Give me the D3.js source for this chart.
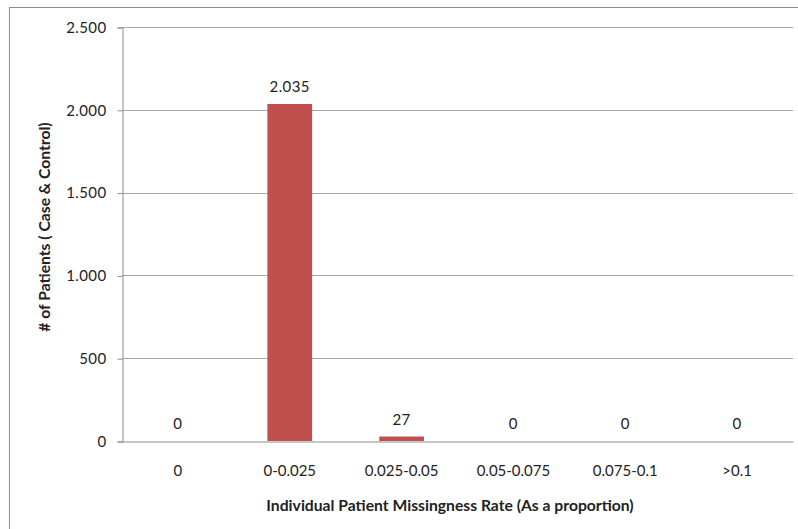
<!DOCTYPE html>
<html>
<head>
<meta charset="utf-8">
<script src="https://cdn.jsdelivr.net/npm/d3@7"></script>
<style>
  html, body { margin: 0; padding: 0; background: #fff; }
  svg { display: block; font-family: Lato, "Open Sans", sans-serif; }
</style>
</head>
<body>
<svg id="chart" width="798" height="529"></svg>
<script>
// Patients grouped by individual missingness rate
const categories = ["0", "0-0.025", "0.025-0.05", "0.05-0.075", "0.075-0.1", ">0.1"];
const patients = [0, 2035, 27, 0, 0, 0];
const yTicks = [0, 500, 1000, 1500, 2000, 2500];

const svg = d3.select("#chart");
const W = 798, H = 529;
const plot = { left: 122, right: 793, top: 27, bottom: 441 };
const textColor = "#222";

// chart frame
svg.append("rect")
  .attr("x", 9.5).attr("y", 7.5)
  .attr("width", W).attr("height", H)
  .attr("fill", "#fff").attr("stroke", "#8c8c8c").attr("stroke-width", 1);

const x = d3.scaleBand().domain(categories).range([plot.left, plot.right]).paddingInner(0).paddingOuter(0);
const y = d3.scaleLinear().domain([0, 2500]).range([plot.bottom, plot.top]);

// thousands separator shown as a dot
const fmt = v => d3.format(",")(v).replace(/,/g, ".");

// horizontal gridlines
svg.append("g").selectAll("line")
  .data(yTicks.filter(v => v > 0))
  .join("line")
  .attr("x1", plot.left).attr("x2", plot.right)
  .attr("y1", d => Math.round(y(d)) + 0.5).attr("y2", d => Math.round(y(d)) + 0.5)
  .attr("stroke", "#a6a6a6");

// y axis
const yAxis = d3.axisLeft(y).tickValues(yTicks).tickSize(5).tickFormat(fmt);
const gy = svg.append("g").attr("transform", `translate(${plot.left + 0.5},0.5)`).call(yAxis);
gy.select(".domain").attr("stroke", "#8c8c8c");
gy.selectAll(".tick line").attr("stroke", "#8c8c8c");
gy.selectAll(".tick text")
  .attr("x", -16).attr("font-size", 15).attr("fill", textColor)
  .attr("letter-spacing", 0.4)
  .attr("font-family", "Lato, sans-serif");

// bars
const barW = x.bandwidth() * 0.4;
svg.append("g").selectAll("rect")
  .data(patients)
  .join("rect")
  .attr("x", (d, i) => x(categories[i]) + (x.bandwidth() - barW) / 2)
  .attr("width", barW)
  .attr("y", d => y(d))
  .attr("height", d => y(0) - y(d))
  .attr("fill", "#C0504D");

// value labels
svg.append("g").selectAll("text")
  .data(patients)
  .join("text")
  .attr("x", (d, i) => x(categories[i]) + x.bandwidth() / 2)
  .attr("y", d => y(d) - 12)
  .attr("text-anchor", "middle")
  .attr("font-size", 15).attr("fill", textColor)
  .attr("letter-spacing", 0.4)
  .text(d => fmt(d));

// x axis
const xAxis = d3.axisBottom(x).tickSize(0).tickPadding(24);
const gx = svg.append("g").attr("transform", `translate(0,${plot.bottom + 0.5})`).call(xAxis);
gx.select(".domain").attr("stroke", "#8c8c8c");
gx.selectAll(".tick text").attr("font-size", 15).attr("fill", textColor)
  .attr("font-family", "Lato, sans-serif");

// axis titles
svg.append("text")
  .attr("x", 450).attr("y", 511)
  .attr("text-anchor", "middle")
  .attr("font-size", 15.7).attr("font-weight", "bold").attr("fill", textColor)
  .text("Individual Patient Missingness Rate (As a proportion)");

svg.append("text")
  .attr("transform", "translate(50,227) rotate(-90)")
  .attr("text-anchor", "middle")
  .attr("font-size", 15.7).attr("font-weight", "bold").attr("fill", textColor)
  .text("# of Patients ( Case & Control)");
</script>
</body>
</html>
